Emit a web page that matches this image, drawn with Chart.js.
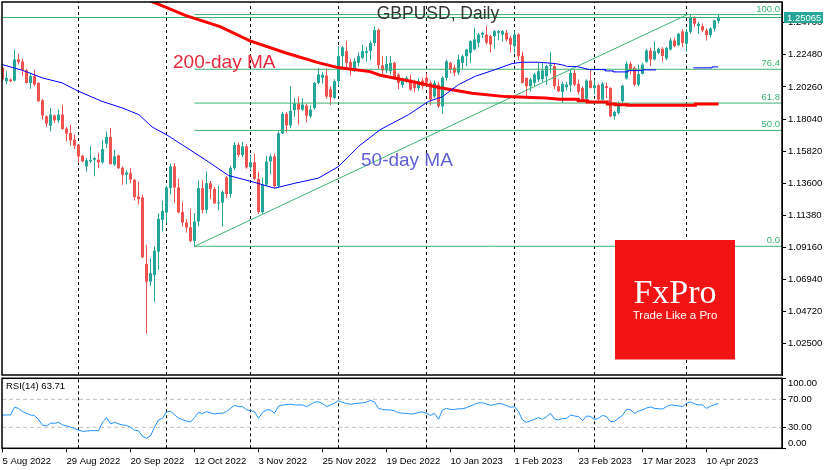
<!DOCTYPE html>
<html><head><meta charset="utf-8">
<script src="https://cdn.jsdelivr.net/npm/chart.js@4.4.0/dist/chart.umd.min.js"></script>
<style>
html,body{margin:0;padding:0;background:#fff;}
#wrap{position:relative;width:835px;height:470px;overflow:hidden;background:#fff}
#c1{position:absolute;left:0;top:0}
#c2{position:absolute;left:0;top:376px}
</style></head><body>
<div id="wrap">
<canvas id="c1" width="835" height="377"></canvas>
<canvas id="c2" width="835" height="94"></canvas>
</div>
<script>
// ---------------- DATA ----------------
const titleText = 'GBPUSD, Daily';
const ma200Label = '200-day MA';
const ma50Label = '50-day MA';
const rsiLabel = 'RSI(14) 63.71';
const lastPrice = 1.25065;

const dateLabels = ['5 Aug 2022','29 Aug 2022','20 Sep 2022','12 Oct 2022','3 Nov 2022','25 Nov 2022','19 Dec 2022','10 Jan 2023','1 Feb 2023','23 Feb 2023','17 Mar 2023','10 Apr 2023'];
const dateLabelBars = [0,16,32,48,64,80,96,112,128,144,160,176];
const monthStartBars = [19,41,62,84,106,128,148,171];
const priceTicks = [1.24700,1.22480,1.20260,1.18040,1.15820,1.13600,1.11380,1.09160,1.06940,1.04720,1.02500];
const rsiTicks = [100,70,30,0];
const rsiGuides = [70,30];

const open = [1.2158,1.2066,1.2077,1.2070,1.2216,1.2202,1.2142,1.2054,1.2101,1.2054,
1.1934,1.1823,1.1758,1.1828,1.1795,1.1835,1.1737,1.1707,1.1661,1.1626,
1.1550,1.1476,1.1511,1.1522,1.1522,1.1504,1.1633,1.1680,1.1488,1.1552,
1.1467,1.1418,1.1430,1.1384,1.1268,1.1261,1.0801,1.0678,1.0724,1.0886,
1.1106,1.1157,1.1326,1.1476,1.1330,1.1161,1.1087,1.1055,1.0960,1.1095,
1.1325,1.1175,1.1360,1.1320,1.1220,1.1225,1.1400,1.1285,1.1465,1.1625,
1.1555,1.1615,1.1470,1.1505,1.1390,1.1160,1.1350,1.1510,1.1545,1.1340,
1.1705,1.1840,1.1760,1.1865,1.1911,1.1869,1.1897,1.1823,1.1880,1.2054,
1.2090,1.2105,1.2010,1.1950,1.2066,1.2239,1.2274,1.2200,1.2147,1.2193,
1.2228,1.2262,1.2275,1.2330,1.2420,1.2175,1.2140,1.2135,1.2193,1.2112,
1.2040,1.2066,1.2077,1.2050,1.2019,1.2070,1.2090,1.2055,1.1960,1.2042,
1.1892,1.2089,1.2193,1.2160,1.2125,1.2193,1.2239,1.2262,1.2285,1.2332,
1.2389,1.2389,1.2378,1.2378,1.2401,1.2389,1.2401,1.2366,1.2308,1.2389,
1.2239,1.2089,1.2031,1.2054,1.2077,1.2080,1.2100,1.2170,1.2170,1.2031,
1.1991,1.2024,1.2038,1.2123,1.2047,1.2019,1.1945,1.2070,1.2019,1.2038,
1.1938,1.2031,1.2019,1.1823,1.1846,1.1927,1.2084,1.2186,1.2158,1.2042,
1.2116,1.2200,1.2278,1.2216,1.2262,1.2290,1.2223,1.2285,1.2348,1.2315,
1.2410,1.2325,1.2408,1.2505,1.2447,1.2447,1.2417,1.2385,1.2429,1.2482];

const high = [1.2170,1.2135,1.2085,1.2286,1.2258,1.2221,1.2151,1.2124,1.2147,1.2059,
1.1943,1.1828,1.1881,1.1835,1.1869,1.1904,1.1749,1.1765,1.1696,1.1628,
1.1557,1.1534,1.1615,1.1545,1.1569,1.1661,1.1719,1.1742,1.1592,1.1557,
1.1476,1.1448,1.1464,1.1388,1.1372,1.1279,1.0933,1.0840,1.0921,1.1152,
1.1238,1.1342,1.1495,1.1499,1.1388,1.1233,1.1111,1.1182,1.1154,1.1380,
1.1380,1.1440,1.1375,1.1335,1.1340,1.1310,1.1410,1.1480,1.1645,1.1640,
1.1645,1.1630,1.1560,1.1565,1.1440,1.1400,1.1550,1.1560,1.1565,1.1720,
1.1855,1.1850,1.2030,1.1950,1.1960,1.1950,1.1910,1.1900,1.2060,1.2155,
1.2130,1.2155,1.2030,1.2080,1.2310,1.2310,1.2345,1.2220,1.2225,1.2265,
1.2320,1.2300,1.2345,1.2445,1.2430,1.2240,1.2240,1.2240,1.2200,1.2120,
1.2090,1.2100,1.2110,1.2075,1.2085,1.2090,1.2120,1.2070,1.2070,1.2060,
1.2100,1.2215,1.2200,1.2180,1.2250,1.2250,1.2290,1.2350,1.2436,1.2400,
1.2410,1.2450,1.2385,1.2420,1.2420,1.2420,1.2420,1.2380,1.2415,1.2400,
1.2270,1.2090,1.2090,1.2125,1.2195,1.2190,1.2180,1.2270,1.2190,1.2080,
1.2060,1.2060,1.2147,1.2147,1.2077,1.2031,1.2080,1.2147,1.2077,1.2047,
1.2060,1.2055,1.2024,1.1862,1.1925,1.2042,1.2204,1.2200,1.2170,1.2181,
1.2193,1.2290,1.2297,1.2343,1.2297,1.2300,1.2305,1.2366,1.2366,1.2401,
1.2425,1.2431,1.2525,1.2515,1.2475,1.2465,1.2430,1.2440,1.2490,1.2533];

const low = [1.2066,1.2043,1.2058,1.2065,1.2182,1.2101,1.2050,1.2013,1.2031,1.1920,
1.1800,1.1749,1.1719,1.1777,1.1777,1.1730,1.1650,1.1619,1.1596,1.1499,
1.1504,1.1441,1.1499,1.1407,1.1464,1.1495,1.1603,1.1488,1.1481,1.1458,
1.1349,1.1353,1.1360,1.1240,1.1210,1.0840,1.0320,1.0648,1.0539,1.0759,
1.1025,1.1083,1.1279,1.1222,1.1152,1.1060,1.1018,1.0949,1.0923,1.1060,
1.1150,1.1150,1.1250,1.1215,1.1170,1.1060,1.1255,1.1260,1.1450,1.1540,
1.1540,1.1460,1.1450,1.1380,1.1145,1.1150,1.1340,1.1420,1.1325,1.1330,
1.1700,1.1710,1.1740,1.1820,1.1765,1.1860,1.1780,1.1810,1.1870,1.2045,
1.2050,1.1945,1.1900,1.1940,1.2030,1.2150,1.2160,1.2105,1.2130,1.2170,
1.2220,1.2200,1.2210,1.2310,1.2150,1.2110,1.2120,1.2110,1.2080,1.2010,
1.2020,1.2055,1.2000,1.1990,1.2000,1.2010,1.2030,1.1900,1.1950,1.1880,
1.1841,1.2070,1.2120,1.2100,1.2110,1.2150,1.2170,1.2190,1.2280,1.2300,
1.2365,1.2320,1.2265,1.2290,1.2350,1.2340,1.2340,1.2265,1.2260,1.2210,
1.2050,1.1960,1.1995,1.2030,1.2060,1.2060,1.2040,1.2120,1.2010,1.1990,
1.1915,1.2000,1.1991,1.2031,1.1973,1.1927,1.1930,1.2015,1.1973,1.1934,
1.1930,1.1950,1.1816,1.1800,1.1835,1.1915,1.2077,1.2112,1.2031,1.2031,
1.2112,1.2193,1.2170,1.2209,1.2251,1.2200,1.2210,1.2278,1.2300,1.2308,
1.2300,1.2269,1.2395,1.2440,1.2395,1.2405,1.2348,1.2370,1.2410,1.2465];

const close = [1.2077,1.2089,1.2066,1.2216,1.2198,1.2142,1.2054,1.2101,1.2043,1.1927,
1.1828,1.1772,1.1835,1.1795,1.1835,1.1735,1.1703,1.1656,1.1619,1.1545,
1.1511,1.1518,1.1522,1.1534,1.1504,1.1596,1.1680,1.1492,1.1545,1.1464,
1.1418,1.1434,1.1384,1.1263,1.1249,1.0847,1.0678,1.0736,1.0893,1.1113,
1.1168,1.1330,1.1476,1.1330,1.1157,1.1087,1.1053,1.0960,1.1094,1.1325,
1.1175,1.1360,1.1320,1.1220,1.1225,1.1300,1.1285,1.1465,1.1625,1.1555,
1.1615,1.1470,1.1505,1.1390,1.1160,1.1350,1.1510,1.1545,1.1340,1.1705,
1.1840,1.1760,1.1860,1.1912,1.1869,1.1904,1.1827,1.1869,1.2054,1.2112,
1.2110,1.1960,1.1955,1.2066,1.2239,1.2300,1.2193,1.2160,1.2204,1.2239,
1.2274,1.2274,1.2330,1.2420,1.2175,1.2140,1.2185,1.2193,1.2089,1.2054,
1.2080,1.2089,1.2008,1.2019,1.2066,1.2031,1.2055,1.1940,1.2054,1.1892,
1.2090,1.2204,1.2147,1.2125,1.2216,1.2239,1.2285,1.2343,1.2355,1.2389,
1.2401,1.2332,1.2320,1.2412,1.2412,1.2412,1.2355,1.2320,1.2389,1.2239,
1.2054,1.2031,1.2077,1.2112,1.2135,1.2140,1.2170,1.2180,1.2031,1.1996,
1.2047,1.2042,1.2123,1.2042,1.1991,1.1938,1.2070,1.2019,1.2038,1.1938,
1.2049,1.2019,1.1823,1.1853,1.1915,1.2035,1.2186,1.2147,1.2042,1.2116,
1.2181,1.2278,1.2216,1.2274,1.2290,1.2240,1.2297,1.2348,1.2308,1.2394,
1.2330,1.2408,1.2505,1.2463,1.2463,1.2417,1.2385,1.2431,1.2486,1.25065];

const ma200Bars = [35,37.7,40.9,45.7,54.4,61.9,70.7,78.9,83.9,91.9,94.4,101.4,109.4,117.4,125.7,135.7,139.4,143.9,143.9,146.2,146.2,151.2,151.2,153.2,153.2,156.2,156.2,173.2,173.2,179];
const ma200Vals = [1.2650,1.2613,1.2577,1.2521,1.2444,1.2345,1.2263,1.2194,1.2160,1.2132,1.2107,1.2069,1.2021,1.1983,1.1959,1.1949,1.1940,1.1940,1.1931,1.1931,1.1922,1.1922,1.1908,1.1908,1.1903,1.1903,1.1899,1.1899,1.1908,1.1908];

const ma50Bars = [-0.1,4.9,9.9,14.9,19,24.9,29.9,34.1,37.4,41,44.9,50.7,56.5,62.3,68,73.2,79,84,89,94.4,101.5,106.5,109.9,114,118.2,123.2,127.4,129.9,134,138.2,140.7,141.2,143.7,146.7,150.7,150.7,152.7,152.7,156.4,156.4,159.9,159.9,163.4,168,172.7,177.4,177.4,178.9];
const ma50Vals = [1.2181,1.2142,1.2089,1.2054,1.1996,1.1926,1.1881,1.1834,1.1749,1.1695,1.1626,1.1522,1.1413,1.1371,1.1325,1.1360,1.1395,1.1475,1.1614,1.1730,1.1834,1.1926,1.1957,1.2042,1.2100,1.2146,1.2188,1.2197,1.2197,1.2188,1.2174,1.2167,1.2167,1.2146,1.2146,1.2137,1.2137,1.2130,1.2130,1.2139,1.2139,1.2144,1.2144,null,1.2158,1.2158,1.2165,1.2165];

const rsi = [47.6,47.6,47.6,58.6,57.1,52.4,50,47.6,47,41,
33,32,36,35.7,37.1,33.5,32,30.5,28,26.2,
24.2,24.5,25.2,25.2,25.2,37,44,35,37.1,35,
33.3,32.8,30,26,25.2,17,14.3,18,30,40.5,
42.9,52,53,48,43,41,39,37.5,44,51.4,
49.5,52.4,50.5,49,50,50,52.4,57,61.4,59.5,
59.5,55,53.8,52.4,42.9,51,54.8,54.8,50,60.5,
61.9,62.5,63,62,61.9,61.9,59.5,62.5,66,66.5,
64,59.5,62,64.5,68,65.5,64,62.9,63.8,64.5,
64.8,66,68.5,66,57,55.5,54.8,54.8,53.5,51,
50,50,49,49.5,51,52,50,47,50,41.4,
54.8,57.1,55.5,55.5,56.5,56.5,58,60.5,63,64.8,
65,63.3,61.5,62.5,64,63.3,61,58.6,59.5,52.4,
40.5,37.1,39.5,41.4,44,41.4,45,50,42,40.5,
42.4,42.6,47.6,46.2,45.2,39.5,46.2,45.5,41,42.9,
47.1,45.2,38,38.5,43,47,55.7,55,50,53,
54.8,57.6,59,57,56.5,56.2,59.5,62,61.4,60.5,
59.5,64.3,66.2,63.5,62,61.9,57.1,60,62.5,63.71];

const fibBars = [48, 171.2];
const fibPrices = [1.0923, 1.2527];
const fibLevels = [0, 50, 61.8, 76.4, 100];
const fibLabels = ['0.0','50.0','61.8','76.4','100.0'];

const logoTitle = 'FxPro';
const logoSub = 'Trade Like a Pro';

// ---------------- STYLE ----------------
const SANS = "'Liberation Sans',Arial,sans-serif";
const SMALL = 9.5;
const BULL = '#26a69a', BEAR = '#ef5350';
const FIB = '#3cb371';
const X_MIN = -0.125, X_MAX = 194.875;
const Y_MIN = 1.0032, Y_MAX = 1.2614;
Chart.defaults.font.family = SANS;
Chart.defaults.font.size = SMALL;
Chart.defaults.color = '#000';

const candleColor = i => (close[i] >= open[i] ? BULL : BEAR);
const fibPrice = lv => fibPrices[0] + (fibPrices[1] - fibPrices[0]) * lv / 100;

const framePlugin = {
  id: 'frame',
  afterDraw(chart) {
    const {ctx, chartArea: a} = chart;
    ctx.save();
    ctx.strokeStyle = '#000'; ctx.lineWidth = 1.5;
    ctx.strokeRect(a.left, a.top, a.right - a.left, a.bottom - a.top);
    ctx.restore();
  }
};

const mainOverlay = {
  id: 'mainOverlay',
  afterDatasetsDraw(chart) {
    const {ctx, chartArea: a, scales: {y}} = chart;
    ctx.save();
    ctx.textBaseline = 'alphabetic';
    ctx.fillStyle = '#333'; ctx.font = "17.5px " + SANS; ctx.textAlign = 'center';
    ctx.fillText(titleText, 438, 19.3);
    ctx.textAlign = 'left'; ctx.font = "19px " + SANS;
    ctx.fillStyle = '#e6283c'; ctx.fillText(ma200Label, 173, 67.5);
    ctx.fillStyle = '#5f5fd7'; ctx.fillText(ma50Label, 361, 166);
    ctx.font = SMALL + "px " + SANS; ctx.fillStyle = FIB; ctx.textAlign = 'right';
    fibLevels.forEach((lv, k) => {
      ctx.fillText(fibLabels[k], a.right - 2, y.getPixelForValue(fibPrice(lv)) - 3);
    });
    ctx.restore();
  },
  afterDraw(chart) {
    const {ctx, chartArea: a, scales: {y}} = chart;
    ctx.save();
    const py = y.getPixelForValue(lastPrice);
    ctx.fillStyle = BULL;
    ctx.fillRect(a.right + 2, py - 5.5, 39, 11);
    ctx.fillStyle = '#fff'; ctx.font = SMALL + "px " + SANS; ctx.textAlign = 'left'; ctx.textBaseline = 'middle';
    ctx.fillText(lastPrice.toFixed(5), a.right + 5, py + 0.5);
    ctx.fillStyle = '#f01414';
    ctx.fillRect(615, 240, 120, 119.5);
    ctx.fillStyle = '#fff'; ctx.textAlign = 'center'; ctx.textBaseline = 'alphabetic';
    ctx.font = "34px 'Liberation Serif',serif";
    ctx.fillText(logoTitle, 675, 302.5);
    ctx.font = "11.5px " + SANS;
    ctx.fillText(logoSub, 675, 319);
    ctx.restore();
  }
};

const monthLineSets = (yLo, yHi, yAxisID) => monthStartBars.map(b => ({
  type: 'line', data: [{x: b, y: yLo}, {x: b, y: yHi}], yAxisID,
  borderColor: '#000', borderWidth: 1, borderDash: [3, 3], pointRadius: 0, order: 10, clip: false
}));

// ---------------- MAIN CHART ----------------
const idx = open.map((_, i) => i);
const mainDatasets = [
  ...monthLineSets(Y_MIN, Y_MAX, 'y'),
  { type: 'bar', data: idx.map(i => ({x: i, y: [low[i], high[i]]})),
    backgroundColor: c => candleColor(c.dataIndex), barThickness: 1, grouped: false,
    borderWidth: 0, inflateAmount: 0, order: 6 },
  { type: 'bar', data: idx.map(i => ({x: i, y: [open[i], close[i]]})),
    backgroundColor: c => candleColor(c.dataIndex), barThickness: 3, grouped: false,
    borderWidth: 0, inflateAmount: 0, minBarLength: 1, order: 5 },
  ...fibLevels.map(lv => ({ type: 'line', data: [{x: fibBars[0], y: fibPrice(lv)}, {x: X_MAX, y: fibPrice(lv)}],
    borderColor: FIB, borderWidth: 1, pointRadius: 0, order: 3 })),
  { type: 'line', data: [{x: fibBars[0], y: fibPrices[0]}, {x: fibBars[1], y: fibPrices[1]}],
    borderColor: FIB, borderWidth: 1, pointRadius: 0, order: 3 },
  { type: 'line', data: [{x: X_MIN, y: lastPrice}, {x: X_MAX, y: lastPrice}],
    borderColor: FIB, borderWidth: 1, pointRadius: 0, order: 3 },
  { type: 'line', data: ma200Bars.map((b, k) => ({x: b, y: ma200Vals[k]})),
    borderColor: '#ff0000', borderWidth: 3, pointRadius: 0, tension: 0, order: 1 },
  { type: 'line', data: ma50Bars.map((b, k) => ({x: b, y: ma50Vals[k]})),
    borderColor: '#0000ff', borderWidth: 1, pointRadius: 0, tension: 0, spanGaps: false, order: 0 }
];

new Chart(document.getElementById('c1'), {
  type: 'bar',
  data: { datasets: mainDatasets },
  options: {
    responsive: false, animation: false, devicePixelRatio: 1, events: [],
    layout: { padding: { left: 2, top: 2, right: 0, bottom: 2 } },
    plugins: { legend: { display: false }, tooltip: { enabled: false } },
    scales: {
      x: { type: 'linear', min: X_MIN, max: X_MAX, offset: false, display: false },
      y: { type: 'linear', position: 'right', min: Y_MIN, max: Y_MAX,
        afterBuildTicks: s => { s.ticks = priceTicks.map(v => ({value: v})); },
        afterFit: s => { s.width = 53; s.paddingTop = 0; s.paddingBottom = 0; },
        ticks: { callback: v => Number(v).toFixed(5), padding: 2, color: '#000', font: { size: SMALL, family: SANS } },
        grid: { drawOnChartArea: false, drawTicks: true, tickLength: 4, color: '#000' },
        border: { display: true, color: '#000', width: 1 } }
    }
  },
  plugins: [framePlugin, mainOverlay]
});

// ---------------- RSI CHART ----------------
const rsiOverlay = {
  id: 'rsiOverlay',
  afterDraw(chart) {
    const {ctx, chartArea: a, scales: {y}} = chart;
    ctx.save();
    ctx.fillStyle = '#000'; ctx.font = SMALL + "px " + SANS;
    ctx.textAlign = 'left'; ctx.textBaseline = 'middle';
    ctx.fillText(rsiLabel, 6, 10.5);
    rsiTicks.forEach(v => {
      const py = Math.min(Math.max(y.getPixelForValue(v), a.top + 5), a.bottom - 5);
      ctx.fillText(v.toFixed(2), a.right + 6, py);
    });
    ctx.restore();
  }
};

new Chart(document.getElementById('c2'), {
  type: 'line',
  data: { datasets: [
    ...monthLineSets(0, 100, 'y'),
    ...rsiGuides.map(g => ({ data: [{x: X_MIN, y: g}, {x: X_MAX, y: g}], borderColor: '#c0c0c0',
      borderWidth: 1, borderDash: [4, 3], pointRadius: 0, order: 8 })),
    { data: rsi.map((v, i) => ({x: i, y: v})), borderColor: '#1e90ff', borderWidth: 1,
      pointRadius: 0, tension: 0, order: 0 }
  ] },
  options: {
    responsive: false, animation: false, devicePixelRatio: 1, events: [],
    layout: { padding: { left: 2, top: 2.3, right: 0, bottom: 0 } },
    plugins: { legend: { display: false }, tooltip: { enabled: false } },
    scales: {
      x: { type: 'linear', min: X_MIN, max: X_MAX, offset: false,
        afterBuildTicks: s => { s.ticks = dateLabelBars.map(v => ({value: v})); },
        afterFit: s => { s.height = 21.7; s.paddingLeft = 0; s.paddingRight = 0; },
        ticks: { callback: (v, i) => dateLabels[i], autoSkip: false, maxRotation: 0, minRotation: 0,
          align: 'start', padding: 3, color: '#000', font: { size: SMALL, family: SANS } },
        grid: { drawOnChartArea: false, drawTicks: true, tickLength: 4, color: '#000' },
        border: { display: true, color: '#000' } },
      y: { type: 'linear', position: 'right', min: 0, max: 100,
        afterBuildTicks: s => { s.ticks = rsiTicks.map(v => ({value: v})); },
        afterFit: s => { s.width = 53; s.paddingTop = 0; s.paddingBottom = 0; },
        ticks: { display: false },
        grid: { drawOnChartArea: false, drawTicks: true, tickLength: 4, color: '#000' },
        border: { display: true, color: '#000' } }
    }
  },
  plugins: [framePlugin, rsiOverlay]
});
</script>
</body></html>
